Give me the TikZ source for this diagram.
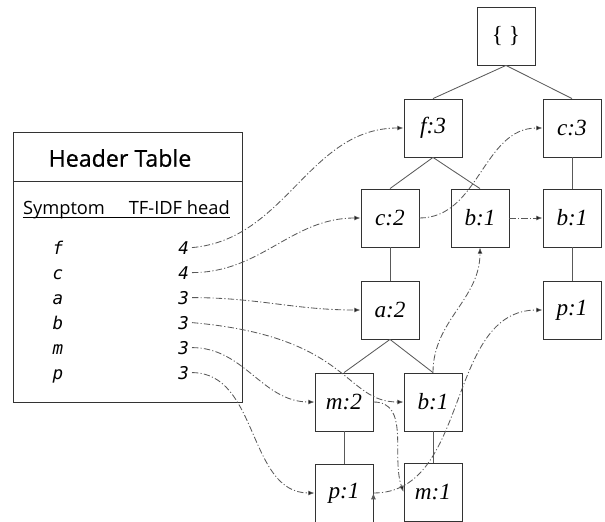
\documentclass[tikz,border=0pt]{standalone}
\usepackage{fontspec}
\setmainfont{Liberation Serif}
\newfontfamily\tablefont{Open Sans}
\newfontfamily\titlefont[FakeBold=0.6]{Open Sans}
\newfontfamily\entryfont{DejaVu Sans Mono}
\usepackage{tikz}
\usetikzlibrary{arrows.meta}

\begin{document}
\begin{tikzpicture}[auto, >={Latex[length=4.5pt, width=3.5pt]}]
	\tikzstyle{item} = [draw=black!80, line width=0.6pt, rectangle, minimum size=1.45cm, inner sep=0pt, font=\fontsize{16.5}{19}\selectfont\itshape]
	\tikzstyle{tree} = [draw=black!65, line width=0.6pt]
	\tikzstyle{link} = [draw=black!65, line width=0.6pt, dash pattern=on 4.5pt off 1.6pt on 0.8pt off 1.6pt, ->]
	\tikzstyle{frame} = [draw=black!80, line width=0.6pt, rectangle, minimum width=5.725cm]
	\tikzstyle{entry} = [font=\entryfont\fontsize{12.5}{15}\selectfont\itshape, inner sep=2pt]
	
	\useasboundingbox (0, 0) rectangle (15.125, -13.05);
	
	% header table
	\node[frame, minimum height=1.225cm]	at (3.1875, -3.9125)	(hd)	{};
	\node[frame, minimum height=5.525cm]	at (3.1875, -7.2875)	(body)	{};
	\node[font=\titlefont\fontsize{16.5}{19}\selectfont]	at (3.0, -3.95)	(title)	{Header Table};
	\node[font=\tablefont\fontsize{13}{16}\selectfont, inner sep=0pt]	at (3.16, -5.25)	(cols)	{Symptom\hspace{17pt}TF-IDF head};
	\draw[line width=0.5pt] ([yshift=-1.6pt]cols.base west) -- ([yshift=-1.6pt]cols.base east);
	
	\foreach \s/\v/\y [count=\i from 0] in {f/4/-6.35, c/4/-6.975, a/3/-7.6, b/3/-8.225, m/3/-8.85, p/3/-9.475} {
		\node[entry, anchor=base]		at (1.45, \y)	(s\i)	{\s};
		\node[entry, anchor=base east]	at (4.8, \y)	(h\i)	{\v};
	}
	
	% tree
	\node[item]	at (12.65, -0.9)		(q0)	{\upshape\{ \}};
	\node[item]	at (10.825, -3.2)		(q1)	{f:3};
	\node[item]	at (14.3, -3.2)		(q2)	{c:3};
	\node[item]	at (9.75, -5.45)		(q3)	{c:2};
	\node[item]	at (12.0, -5.45)		(q4)	{b:1};
	\node[item]	at (14.3, -5.45)		(q5)	{b:1};
	\node[item]	at (9.75, -7.75)		(q6)	{a:2};
	\node[item]	at (14.3, -7.75)		(q7)	{p:1};
	\node[item]	at (8.6, -10.05)		(q8)	{m:2};
	\node[item]	at (10.825, -10.05)	(q9)	{b:1};
	\node[item]	at (8.6, -12.325)		(q10)	{p:1};
	\node[item]	at (10.825, -12.3)	(q11)	{m:1};
	
	\path[tree]
	(q0.south) edge (q1.north)
	(q0.south) edge (q2.north)
	(q1.south) edge (q3.north)
	(q1.south) edge (q4.north)
	(q2) edge (q5)
	(q5) edge (q7)
	(q3) edge (q6)
	(q6.south) edge (q8.north)
	(q6.south) edge (q9.north)
	(q8) edge (q10)
	(q9) edge (q11);
	
	% node links
	\path[link]
	(h0.east) edge[out=5, in=180] (q1.west)
	(h1.east) edge[out=0, in=180] (q3.west)
	(h2.east) edge[out=0, in=180] (q6.west)
	(h3.east) edge[out=-5, in=180, out distance=4cm, in distance=1.5cm] (q9.west)
	(h4.east) edge[out=0, in=180] (q8.west)
	(h5.east) edge[out=0, in=180] (q10.west)
	(q3.east) edge[out=0, in=180] (q2.west)
	(q4) edge (q5)
	(q9.north) edge[out=90, in=-90] (q4.south)
	(q8.east) edge[out=0, in=110] (q11.west)
	(q10.east) edge[out=0, in=180] (q7.west);
	
\end{tikzpicture}
\end{document}
